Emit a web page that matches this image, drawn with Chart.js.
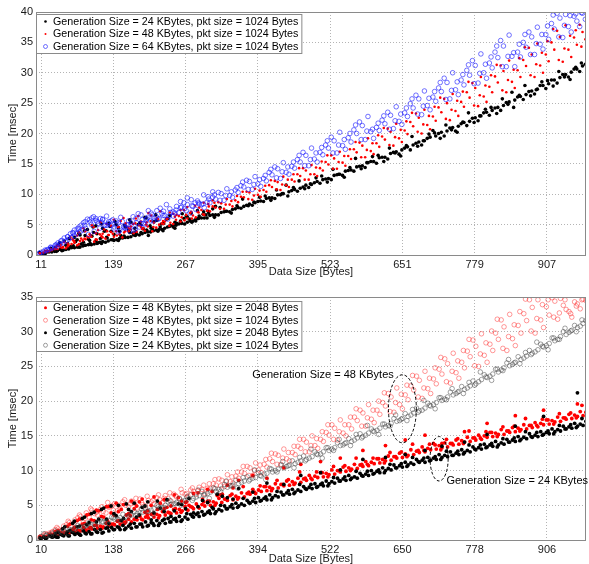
<!DOCTYPE html>
<html>
<head>
<meta charset="utf-8">
<script src="https://cdn.jsdelivr.net/npm/chart.js@4.4.1/dist/chart.umd.min.js"></script>
<style>
    html, body { margin: 0; padding: 0; background: #fff; overflow: hidden; }
    #topBox { position: absolute; left: 0; top: 0; }
    #bottomBox { position: absolute; left: 0; top: 285px; }
</style>
</head>
<body>
<div id="topBox"><canvas id="topChart" width="589" height="282"></canvas></div>
<div id="bottomBox"><canvas id="bottomChart" width="589" height="282"></canvas></div>
<script>
const FONT = '"Liberation Sans", Arial, Helvetica, sans-serif';

// shared data sizes (three interleaved sample grids)
const xs = [10,20,30,40,50,60,70,80,90,100,110,120,130,140,150,160,170,180,190,200,
    210,220,230,240,250,260,270,280,290,300,310,320,330,340,350,360,370,380,390,400,
    410,420,430,440,450,460,470,480,490,500,510,520,530,540,550,560,570,580,590,600,
    610,620,630,640,650,660,670,680,690,700,710,720,730,740,750,760,770,780,790,800,
    810,820,830,840,850,860,870,880,890,900,910,920,930,940,950,960,970];
const xs2 = [15,25,35,45,55,65,75,85,95,105,115,125,135,145,155,165,175,185,195,205,
    215,225,235,245,255,265,275,285,295,305,315,325,335,345,355,365,375,385,395,405,
    415,425,435,445,455,465,475,485,495,505,515,525,535,545,555,565,575,585,595,605,
    615,625,635,645,655,665,675,685,695,705,715,725,735,745,755,765,775,785,795,805,
    815,825,835,845,855,865,875,885,895,905,915,925,935,945,955,965,975];
const xs3 = [8,18,28,38,48,58,68,78,88,98,108,118,128,138,148,158,168,178,188,198,
    208,218,228,238,248,258,268,278,288,298,308,318,328,338,348,358,368,378,388,398,
    408,418,428,438,448,458,468,478,488,498,508,518,528,538,548,558,568,578,588,598,
    608,618,628,638,648,658,668,678,688,698,708,718,728,738,748,758,768,778,788,798,
    808,818,828,838,848,858,868,878,888,898,908,918,928,938,948,958,968];

// ---- top plot: pkt size 1024 Bytes ----
const topLabels = [
    'Generation Size = 24 KBytes, pkt size = 1024 Bytes',
    'Generation Size = 48 KBytes, pkt size = 1024 Bytes',
    'Generation Size = 64 KBytes, pkt size = 1024 Bytes'
];
const topXTicks = [11, 139, 267, 395, 523, 651, 779, 907];

const top24A = [0.3,0.4,0.5,0.7,0.8,1.0,1.2,1.3,1.6,1.7,
    1.9,2.2,2.3,2.4,2.7,2.9,3.0,3.4,3.5,3.8,
    4.0,4.2,4.4,4.8,4.9,5.2,5.4,5.6,6.0,6.1,
    6.5,6.6,7.0,7.2,7.5,7.8,8.0,8.4,8.6,8.9,
    9.3,9.4,9.9,10.1,10.4,10.8,11.0,11.5,11.6,12.1,
    12.4,12.6,13.1,13.3,13.8,14.0,14.5,14.7,15.2,15.4,
    16.0,16.1,16.7,17.0,17.3,17.8,18.1,18.6,18.8,19.4,
    19.6,20.2,20.4,21.0,21.2,21.8,22.0,22.6,22.9,23.5,
    23.8,24.3,24.6,25.2,25.5,26.1,26.4,27.0,27.3,27.9,
    28.2,28.8,29.2,29.7,30.1,30.6,31.1];
const top24B = [0.2,0.5,0.6,0.9,0.9,1.2,1.3,1.5,1.7,1.8,
    2.1,2.1,2.5,2.5,2.8,2.9,3.3,3.3,3.7,3.8,
    4.1,4.2,4.6,4.6,5.1,5.1,5.6,5.6,6.1,6.1,
    6.6,6.6,7.1,7.1,7.6,7.7,8.2,8.2,8.8,8.8,
    9.4,9.3,9.9,11.5,10.6,10.5,11.2,11.1,11.9,11.8,
    12.5,12.4,13.2,13.1,13.9,13.8,14.6,14.4,15.4,15.1,
    16.1,15.8,16.9,16.6,17.6,17.3,18.4,18.1,19.2,20.5,
    20.0,19.6,20.9,20.4,21.6,21.3,22.5,22.1,23.4,23.0,
    24.2,23.8,25.1,26.8,26.0,25.6,26.9,26.5,27.9,27.4,
    28.8,28.3,29.7,29.3,30.6,30.2,31.4];
const top24C = [0.4,0.2,0.8,0.6,0.7,1.1,1.5,1.3,1.6,1.9,
    2.3,1.9,2.8,2.5,2.4,3.1,3.7,3.2,3.7,4.1,
    4.4,3.9,5.2,4.7,4.4,5.5,6.4,5.4,6.0,6.7,
    6.9,6.2,7.8,7.2,6.9,8.1,9.2,8.1,8.7,9.5,
    9.7,9.0,10.7,10.1,9.7,11.1,12.2,10.9,11.7,12.7,
    13.0,12.0,14.1,13.3,12.8,14.4,15.9,14.2,15.2,16.2,
    16.4,15.4,17.6,16.8,16.3,18.0,19.5,17.9,18.8,19.9,
    20.1,19.2,21.4,20.6,20.2,21.9,23.4,21.8,22.9,24.0,
    24.3,23.3,25.7,24.8,24.3,26.3,27.9,26.2,27.2,28.5,
    28.7,27.8,30.2,29.3,28.9,30.9,31.6];
const top48A = [0.3,0.5,0.8,1.0,1.3,1.6,2.0,2.3,2.6,3.0,2.5,2.9,3.3,3.0,3.4,3.9,4.2,3.8,4.3,4.7,
    4.6,5.0,5.5,5.3,5.8,6.2,6.0,6.5,7.0,
    6.6,7.2,7.8,8.5,9.2, 8.0,8.7,9.5,10.3,10.9, 9.6,10.4,11.2,12.0,12.9,
    11.2,12.1,13.0,13.9,14.8, 13.0,13.9,14.9,15.9,17.0, 14.7,15.8,16.9,18.0,19.2,
    16.6,17.8,19.0,20.3,21.6, 18.6,19.9,21.2,22.6,23.9, 20.7,22.1,23.5,25.0,26.5,
    22.9,24.4,25.9,27.5,29.3, 25.2,26.8,28.4,30.3,32.0, 27.5,29.3,31.1,33.0,34.8,
    30.0,31.9,33.8,35.9,37.8, 32.6,34.6,36.7];
const top48B = [0.4,0.6,1.0,1.3,1.1,1.8,1.6,2.4,2.9,2.2,3.4,2.7,3.8,3.2,2.9,4.5,3.6,4.9,4.0,5.6,
    4.5,5.2,6.0,5.1,6.4,5.7,6.9,6.2,7.4,
    7.3,8.0,8.7,7.6,8.3, 9.0,9.6,10.4,9.1,9.9, 10.7,11.5,12.2,10.7,11.5,
    12.4,13.3,14.3,12.4,13.3, 14.3,15.3,16.4,14.2,15.2, 16.3,17.4,18.5,16.1,17.1,
    18.4,19.5,20.8,18.0,19.2, 20.5,21.9,23.3,20.0,21.4, 22.8,24.3,25.7,22.2,23.7,
    25.2,26.8,28.3,24.5,26.1, 27.7,29.4,31.2,26.8,28.5, 30.4,32.1,34.1,29.3,31.2,
    33.0,35.0,36.9,31.8,33.8, 35.8,37.9,35.5];
const top48C = [0.3,0.7,0.9,1.4,1.2,1.9,2.4,1.8,2.7,3.3,2.6,3.1,3.9,3.5,4.6,3.7,4.3,5.2,4.6,5.4,
    3.9,5.9,5.1,4.8,6.3,5.5,6.6,6.0,7.1,6.7,
    8.0,8.6,7.6,8.3,8.9, 9.7,10.4,9.2,9.8,10.6, 11.4,12.3,10.8,11.6,12.4,
    13.3,14.3,12.4,13.3,14.4, 15.4,16.4,14.2,15.3,16.3, 17.4,18.6,16.1,17.3,18.4,
    19.7,20.9,18.1,19.4,20.6, 22.0,23.4,20.3,21.5,22.9, 24.4,25.9,22.4,23.9,25.4,
    26.9,28.5,24.6,26.3,27.9, 29.6,31.3,27.1,28.8,30.5, 32.4,34.2,29.6,31.4,33.3,
    35.2,37.2,32.1,34.0,36.1, 37.0,34.3];
const top64A = [0.4,0.7,1.1,1.5,2.0,2.6,3.2,3.8,4.4,5.0,5.5,5.8,5.2,4.6,4.0,4.4,4.9,5.3,5.8,6.2,
    5.6,6.0,6.5,7.0,7.4,7.9,8.3,8.0,8.6,
    7.8,8.6,9.2,10.1,10.9, 9.5,10.3,11.2,12.1,12.9, 11.3,12.2,13.2,14.2,15.2,
    13.3,14.3,15.3,16.4,17.6, 15.3,16.5,17.6,18.8,20.2, 17.4,18.6,20.0,21.3,22.8,
    19.2,20.5,21.6,23.0,24.4, 21.5,22.8,24.2,25.7,27.0, 23.9,25.3,26.9,28.4,30.0,
    26.4,28.0,29.6,31.2,33.1, 29.1,30.8,32.5,34.4,36.2, 31.0,32.6,34.2,35.9,37.5,
    33.9,35.5,37.2,39.0,39.6, 36.7,38.5,39.8];
const top64B = [0.5,0.9,1.3,1.8,2.3,2.9,3.5,4.1,3.4,3.9,4.4,4.9,5.6,5.1,5.5,5.0,4.1,4.6,5.0,5.6,
    6.3,6.8,5.9,6.4,7.0,7.6,6.9,7.5,8.3,
    8.7,9.5,10.3,9.0,9.8, 10.7,11.4,12.3,10.8,11.7, 12.6,13.6,14.5,12.6,13.6,
    14.6,15.7,16.9,14.7,15.8, 16.9,18.1,19.4,16.8,18.0, 19.3,20.6,21.9,19.0,20.3,
    21.0,22.2,23.5,20.8,22.0, 23.4,24.9,26.3,23.1,24.6, 26.0,27.5,29.1,25.7,27.2,
    28.8,30.4,32.0,28.3,30.0, 31.6,33.4,35.3,31.0,32.7, 33.4,35.0,36.7,33.0,34.7,
    36.3,38.1,39.8,35.8,37.6, 39.3,37.6,38.8];
const top64C = [0.3,0.8,1.2,1.7,2.4,3.0,3.6,4.3,4.9,5.4,6.0,5.4,4.9,5.8,5.3,4.5,3.9,4.3,5.2,6.0,
    6.6,5.9,7.2,6.4,6.9,7.8,7.3,8.1,8.9,8.4,
    9.2,9.9,9.0,9.8,10.4, 11.1,12.0,10.8,11.6,12.4, 13.1,14.1,12.7,13.7,14.5,
    15.3,16.4,14.7,15.7,16.8, 17.7,18.8,16.8,18.1,19.0, 20.0,21.4,19.0,20.4,20.7,
    21.7,22.9,20.7,22.1,23.2, 24.2,25.7,23.2,24.5,25.8, 26.9,28.4,25.6,27.1,28.5,
    29.7,31.3,28.2,29.9,31.4, 32.6,34.4,31.0,32.7,33.3, 34.7,36.3,33.0,34.8,36.3,
    37.7,39.5,35.9,37.8,39.4, 39.7,39.9];

// scattered points at small data sizes (top plot)
const topCloudX = [28,41,52,63,70,78,86,93,101,108,116,123,131,140,148,157,166,174,183,192,
    201,211,222,233,245,258,270,284,299,315];
const top24Cloud = [1.1,1.6,2.3,1.4,2.9,3.6,2.1,4.2,3.1,4.8,2.7,3.9,5.2,3.4,4.5,2.9,4.1,3.6,5.0,4.3,
    3.2,5.5,4.6,5.9,4.9,5.6,6.3,5.8,7.1,7.6];
const top48Cloud = [0.9,1.5,2.1,2.9,2.2,3.7,4.4,3.0,4.9,3.6,5.4,4.2,3.3,5.8,4.6,6.1,3.9,5.1,6.4,4.4,
    6.9,5.3,7.2,5.9,6.8,7.4,7.9,8.1,8.6,9.0];
const top64Cloud = [1.3,2.0,2.8,3.5,4.1,4.6,5.3,5.9,6.1,5.7,6.0,4.9,5.5,4.3,3.8,4.7,5.6,6.3,6.8,5.2,
    7.3,6.1,7.7,8.3,7.1,8.8,9.4,8.6,9.9,10.4];
const topCloudX2 = [22,36,46,58,67,75,82,89,97,104,112,120,127,135,144,152,161,170,179,188,
    197,206,216,227,239,251,264,277,291,307];
const top24Cloud2 = [0.6,1.2,0.9,1.9,1.3,2.5,1.8,3.2,2.4,3.7,2.0,4.4,2.9,3.9,5.0,3.2,4.6,5.4,3.8,4.9,
    6.1,4.4,5.7,4.0,6.5,5.2,6.0,6.9,6.4,7.2];
const top48Cloud2 = [0.7,1.0,1.7,1.4,2.6,3.2,2.7,3.9,3.4,4.6,4.1,3.5,5.1,4.8,3.9,5.6,5.2,4.7,6.0,5.5,
    5.0,6.5,6.1,5.6,7.0,6.6,7.4,7.1,7.8,8.4];
const top64Cloud2 = [0.9,1.6,2.3,3.0,3.7,4.3,4.9,5.5,5.8,6.3,5.2,5.9,6.4,4.9,5.6,6.2,4.6,5.3,6.0,6.6,
    5.8,6.9,7.3,6.5,7.6,8.0,8.6,9.1,8.4,9.6];
const topCloudX3 = [33,44,55,61,72,80,88,95,103,110,118,126,133,142,150,159,168,177,186,195,
    204,214,224,236,248,261,274,288,303,320];
const top24Cloud3 = [0.8,2.0,1.6,2.7,2.2,3.3,4.0,2.6,4.6,3.5,5.1,4.0,4.7,5.5,3.9,4.9,5.8,4.4,5.3,6.2,
    4.8,6.6,5.1,6.0,5.4,6.8,5.9,7.3,6.6,8.0];

// ---- bottom plot: pkt size 2048 vs 1024 Bytes ----
const bottomLabels = [
    'Generation Size = 48 KBytes, pkt size = 2048 Bytes',
    'Generation Size = 48 KBytes, pkt size = 1024 Bytes',
    'Generation Size = 24 KBytes, pkt size = 2048 Bytes',
    'Generation Size = 24 KBytes, pkt size = 1024 Bytes'
];
const bottomXTicks = [10, 138, 266, 394, 522, 650, 778, 906];

const bot48k2A = [0.3,0.5,0.5,0.8,0.8,1.0,1.1,1.3,1.4,1.6,
    1.7,1.9,2.0,2.2,2.3,2.6,2.6,2.9,2.9,3.2,
    3.3,3.5,3.6,3.8,3.9,4.2,4.3,4.5,4.6,4.9,
    5.0,5.3,5.4,5.7,5.8,6.1,6.2,6.6,6.7,7.0,
    7.1,7.4,7.5,7.8,7.9,8.2,8.3,8.6,8.7,9.0,
    9.1,9.4,9.5,9.8,9.9,10.2,10.3,10.6,10.7,11.0,
    11.1,11.4,11.5,11.8,11.9,12.2,12.3,12.6,12.7,13.0,
    13.1,13.3,13.4,13.7,13.8,14.1,14.2,14.4,14.5,14.8,
    14.9,15.2,15.2,15.5,15.6,15.9,16.0,16.2,16.3,16.6,
    16.7,17.0,17.1,17.4,17.5,17.8,17.9];
const bot48k2B = [0.5,0.8,0.7,1.1,1.1,1.4,1.4,1.8,1.7,2.1,
    2.0,2.4,2.3,2.7,2.6,3.0,3.0,3.4,3.3,3.7,
    3.7,4.1,4.0,4.4,4.4,4.8,4.8,5.2,5.1,5.6,
    5.5,6.0,5.9,6.4,6.3,6.8,6.7,7.3,7.2,7.7,
    7.6,8.1,8.0,8.5,8.4,8.9,8.8,9.3,9.2,9.7,
    9.6,10.1,10.0,10.5,10.4,10.9,10.8,11.3,11.2,11.7,
    11.6,12.1,12.0,12.5,12.4,13.0,12.8,13.4,13.2,13.9,
    13.6,14.0,13.9,14.4,14.3,14.8,14.7,15.1,15.0,15.5,
    15.4,15.9,15.7,16.2,16.1,16.6,16.5,16.9,16.8,17.3,
    17.2,17.7,17.6,18.1,18.0,18.5,18.4];
const bot48k2C = [0.5,0.3,0.8,0.8,1.0,0.9,1.6,1.3,1.5,1.8,
    2.1,1.7,2.7,2.3,2.8,2.4,3.5,3.0,3.0,3.6,
    3.8,3.2,4.5,3.9,4.5,4.0,5.5,4.7,4.8,5.5,
    5.6,5.0,6.5,5.9,6.6,5.9,7.7,6.9,6.9,7.8,
    7.7,7.1,8.6,8.0,8.7,8.0,9.8,8.9,8.9,9.8,
    9.7,9.1,10.6,10.0,10.7,10.0,11.8,10.9,10.9,11.8,
    11.7,11.1,12.6,12.0,12.7,12.0,13.8,12.9,12.9,13.8,
    13.7,13.0,14.5,13.9,14.6,13.9,15.7,14.7,14.7,15.6,
    15.5,14.9,16.3,15.7,16.4,15.7,17.5,16.5,16.5,17.4,
    17.3,16.7,18.2,17.6,18.3,17.6,19.4];
const bot48k1A = [0.5,0.8,1.2,1.6,2.0,2.5,2.9,3.4,3.9,4.3,3.6,4.1,4.7,5.2,4.5,5.0,5.6,4.6,5.1,5.7,
    5.2,5.8,6.4,5.6,6.2,6.8,6.3,7.0,7.6,
    6.7,7.4,7.9,8.6,9.4, 8.2,8.9,9.6,10.4,11.1, 9.7,10.5,11.3,12.2,13.1,
    11.4,12.3,13.2,14.1,15.0, 13.2,14.2,15.1,16.1,17.3, 15.0,16.0,17.2,18.3,19.5,
    16.9,18.1,19.3,20.6,21.9, 18.9,20.2,21.6,23.0,24.3, 21.1,22.5,23.9,25.4,26.9,
    23.3,24.8,26.4,27.9,29.7, 25.6,27.3,28.9,30.7,32.5, 28.0,29.8,31.6,33.5,34.6,
    30.6,32.4,34.4,34.8,33.2, 32.1,34.0,34.7];
const bot48k1B = [0.7,1.0,1.5,1.3,2.2,1.9,3.2,2.6,3.3,3.8,4.4,3.9,4.9,4.2,5.5,4.8,5.3,5.9,4.9,5.5,
    6.1,5.4,6.0,6.6,5.9,6.6,7.2,6.6,7.3,
    7.4,8.1,8.8,7.7,8.4, 9.2,9.8,10.6,9.3,10.1, 10.9,11.7,12.4,10.9,11.7,
    12.6,13.5,14.5,12.7,13.6, 14.5,15.5,16.6,14.4,15.4, 16.6,17.7,18.7,16.4,17.4,
    18.7,19.8,21.1,18.4,19.5, 20.9,22.2,23.6,20.4,21.8, 23.2,24.6,26.1,22.6,24.1,
    25.6,27.2,28.8,25.0,26.6, 28.2,29.8,31.7,27.3,29.0, 30.9,32.6,34.6,29.8,31.7,
    33.6,34.9,31.8,33.8,32.9, 34.3,33.3,34.5];
const bot48k1C = [0.4,0.9,1.0,1.8,1.5,2.7,2.3,3.6,3.1,4.5,4.0,4.8,5.4,4.3,5.0,5.8,5.2,6.0,5.4,6.3,
    5.7,6.5,6.0,6.8,6.4,7.3,6.7,7.5,7.1,7.9,
    8.1,8.7,7.8,8.4,9.1, 9.8,10.6,9.3,10.0,10.8, 11.6,12.5,10.9,11.8,12.6,
    13.5,14.5,12.7,13.6,14.6, 15.6,16.6,14.5,15.6,16.6, 17.7,18.9,16.4,17.6,18.7,
    20.0,21.2,18.5,19.8,21.0, 22.3,23.7,20.6,21.9,23.3, 24.8,26.3,22.8,24.3,25.8,
    27.3,28.9,25.1,26.8,28.4, 30.1,31.8,27.6,29.3,31.0, 32.9,34.7,30.1,31.9,33.9,
    34.6,32.1,32.7,34.6,32.6, 33.7,34.6];
const bot24k2A = [0.2,0.3,0.4,0.4,0.6,0.6,0.8,0.7,0.9,0.9,
    1.1,1.1,1.3,1.5,1.5,1.7,1.7,1.9,1.9,2.1,
    2.1,2.4,2.4,2.6,2.7,2.9,3.0,3.3,3.4,3.7,
    3.8,4.1,4.2,4.5,4.6,4.9,5.0,5.3,5.4,5.7,
    5.8,6.1,6.2,6.5,6.6,6.9,7.0,7.3,7.4,7.7,
    7.8,8.1,8.2,8.5,8.6,8.9,8.9,9.2,9.3,9.6,
    9.7,10.0,10.1,10.4,10.5,10.8,10.9,11.2,11.2,11.5,
    11.6,11.9,12.0,12.2,12.3,12.6,12.7,13.0,13.1,13.4,
    13.5,13.7,13.8,14.1,14.2,14.5,14.6,14.8,14.9,15.2,
    15.3,15.6,15.7,16.0,16.1,16.4,16.5];
const bot24k2B = [0.4,0.6,0.5,0.8,0.9,1.1,1.0,1.3,1.2,1.5,
    1.5,1.7,1.8,1.9,2.1,2.0,2.4,2.3,2.6,2.5,
    2.8,2.8,3.1,3.0,3.4,3.3,3.7,3.7,4.1,4.0,
    4.5,4.4,4.9,4.8,5.3,5.2,5.7,5.6,6.1,6.0,
    6.5,6.4,6.9,6.8,7.3,7.2,7.7,7.6,8.1,8.0,
    8.5,8.4,8.9,8.8,9.3,9.1,9.6,9.5,10.0,9.9,
    10.4,10.3,10.8,10.7,11.2,11.1,11.6,11.5,11.9,11.8,
    12.3,12.2,12.7,12.5,13.0,12.9,13.4,13.3,13.8,13.7,
    14.2,14.0,14.5,14.4,14.9,14.8,15.3,15.1,15.6,15.5,
    16.0,15.9,16.4,16.3,16.8,16.7,17.1];
const bot24k2C = [0.3,0.2,0.5,0.4,0.7,0.6,1.0,0.8,1.0,0.9,
    1.2,1.0,1.8,1.5,1.8,1.5,2.3,1.9,2.3,2.0,
    2.4,2.1,3.0,2.6,3.1,2.7,3.8,3.4,3.9,3.6,
    4.2,3.8,5.0,4.5,5.1,4.7,6.0,5.4,6.0,5.6,
    6.2,5.8,7.0,6.5,7.1,6.7,8.0,7.4,8.0,7.6,
    8.2,7.8,9.0,8.5,9.1,8.7,9.9,9.3,9.9,9.5,
    10.1,9.7,10.9,10.4,11.0,10.6,11.9,11.3,11.8,11.4,
    12.0,11.6,12.8,12.2,12.8,12.4,13.7,13.1,13.7,13.3,
    13.9,13.4,14.6,14.1,14.7,14.3,15.6,14.9,15.5,15.1,
    15.7,15.3,16.5,16.0,16.6,16.2,17.5];
const bot24k1A = [0.5,0.7,1.0,1.1,1.4,1.5,1.7,1.9,2.1,2.2,
    2.5,2.6,2.8,3.0,3.2,3.3,3.6,3.8,4.0,4.2,
    4.5,4.6,5.0,5.1,5.4,5.6,5.9,6.0,6.4,6.5,
    6.9,7.0,7.4,7.6,7.9,8.1,8.5,8.7,9.0,9.2,
    9.6,9.8,10.2,10.4,10.8,11.0,11.4,11.6,12.0,12.3,
    12.7,12.9,13.3,13.6,14.0,14.2,14.7,14.9,15.4,15.6,
    16.1,16.3,16.8,17.1,17.5,17.8,18.3,18.6,19.0,19.3,
    19.8,20.1,20.6,20.9,21.4,21.7,22.2,22.5,23.1,23.4,
    23.9,24.2,24.8,25.1,25.6,26.0,26.5,26.9,27.4,27.8,
    28.3,28.7,29.3,29.6,30.2,30.6,31.2];
const bot24k1B = [0.9,0.8,1.3,1.2,1.7,1.5,2.1,1.9,2.5,2.3,
    2.9,2.6,3.3,3.0,3.7,3.4,4.1,3.9,4.6,4.3,
    5.0,4.7,5.5,5.2,6.0,5.7,6.5,6.2,7.0,6.7,
    7.5,7.3,8.0,7.8,8.6,8.3,9.1,8.9,9.7,9.5,
    10.3,10.0,10.8,10.6,11.4,11.2,12.1,11.8,12.7,12.4,
    13.3,13.1,14.0,13.7,14.6,14.4,15.3,15.1,16.0,15.8,
    16.7,16.5,17.5,17.2,18.2,18.0,19.0,18.7,19.7,19.5,
    20.5,20.3,21.3,21.1,22.1,21.9,22.9,22.8,23.8,23.6,
    24.6,24.5,25.5,25.3,26.4,26.2,27.3,27.1,28.2,28.0,
    29.1,28.9,30.0,29.9,30.9,30.8,31.6];
const bot24k1C = [0.1,0.6,0.6,1.0,1.0,1.0,1.4,1.4,2.0,1.9,
    1.7,2.6,2.3,3.2,2.9,2.7,3.7,3.5,4.5,4.1,
    3.7,4.8,4.6,5.7,5.2,5.0,6.2,5.7,7.2,6.5,
    6.0,7.4,7.0,8.5,7.8,7.5,9.0,8.5,10.1,9.3,
    8.7,10.2,9.8,11.3,10.7,10.4,11.9,11.4,13.1,12.4,
    11.8,13.3,12.9,14.5,13.9,13.6,15.2,14.7,16.5,15.7,
    15.2,16.7,16.4,18.0,17.4,17.2,18.8,18.4,20.1,19.4,
    18.9,20.5,20.2,21.8,21.3,21.1,22.7,22.3,24.2,23.5,
    23.0,24.6,24.4,26.0,25.5,25.4,27.0,26.7,28.5,27.9,
    27.4,29.1,28.9,30.5,30.1,30.0,31.7];

// scattered filled points (bottom plot)
const botCloudX = [35,48,57,66,74,83,91,99,108,117,126,134,143,152,161,170,179,189,199,210,
    221,233,246,259,272,288,305,322,340,360,385,410,440,470,505,540,580,620,655,690,
    720,760,800,850,900,960];
const bot24k2Cloud = [0.9,1.6,1.2,2.4,1.9,3.1,2.2,3.8,2.6,4.4,3.0,4.9,3.5,2.8,5.2,4.1,3.3,4.7,5.5,3.9,
    4.6,5.8,4.2,5.1,6.0,4.8,5.4,6.6,6.1,7.4,6.9,8.2,8.0,9.3,9.7,10.1,11.6,11.9,12.3,12.9,
    13.5,14.1,15.2,16.4,17.8,21.2];
const bot48k2Cloud = [1.2,0.8,2.0,1.5,2.8,2.3,3.6,2.9,4.3,3.4,4.8,3.9,5.3,4.4,3.6,5.6,4.9,5.9,4.2,6.2,
    5.3,4.7,6.5,5.6,5.0,6.8,7.3,6.4,7.9,8.6,9.3,8.9,10.4,10.9,11.3,11.8,12.9,13.6,14.4,15.1,
    13.9,15.6,16.8,17.9,18.7,19.6];
const botCloudX2 = [30,40,52,61,69,78,87,95,104,112,121,130,139,147,156,165,175,184,194,205,
    216,228,240,253,266,280,296,313,331,350];
const bot24k2Cloud2 = [0.6,1.1,1.9,1.4,2.7,2.0,3.3,2.5,4.0,3.0,4.6,2.4,3.8,5.0,3.1,4.4,5.3,3.6,4.9,2.9,
    5.6,4.1,3.4,5.2,4.5,3.9,5.7,4.7,6.3,5.9];
const bot48k2Cloud2 = [0.8,1.4,1.1,2.3,1.8,3.0,2.4,3.7,2.8,4.2,3.3,4.8,3.6,4.1,5.1,3.8,4.5,5.5,4.0,5.0,
    4.4,5.8,4.9,6.1,5.4,6.7,5.9,7.0,6.6,7.5];

// annotations of the bottom plot
const bottomNotes = [
    {text: 'Generation Size = 48 KBytes', x: 384, y: 23.8},
    {text: 'Generation Size = 24 KBytes', x: 728, y: 8.5}
];
const bottomRings = [
    {x: 650, y: 18.9, rx: 24.7, ry: 4.9},
    {x: 715, y: 11.7, rx: 16, ry: 3.2}
];

function pts(xv, yv) {
    return xv.map((x, i) => ({x: x, y: yv[i]}));
}

function series(label, points, mark, order) {
    return {
        label: label,
        data: points,
        order: order,
        mark: mark,
        showLine: false,
        pointRadius: mark.r,
        pointHoverRadius: mark.r,
        pointBackgroundColor: mark.fill || 'rgba(0,0,0,0)',
        pointBorderColor: mark.stroke || mark.fill,
        pointBorderWidth: mark.fill ? 0 : mark.lw
    };
}

function drawMark(ctx, mark, x, y) {
    ctx.beginPath();
    ctx.arc(x, y, mark.lr, 0, Math.PI * 2);
    if (mark.fill) {
        ctx.fillStyle = mark.fill;
        ctx.fill();
    } else {
        ctx.strokeStyle = mark.stroke;
        ctx.lineWidth = mark.lw;
        ctx.stroke();
    }
}

const decor = {
    id: 'decor',
    afterDraw(chart, args, o) {
        const ctx = chart.ctx;
        const a = chart.chartArea;
        ctx.save();
        ctx.strokeStyle = '#8a8a8a';
        ctx.lineWidth = 1;
        ctx.strokeRect(Math.round(a.left) + 0.5, Math.round(a.top) + 0.5,
            Math.round(a.right - a.left) - 1, Math.round(a.bottom - a.top));

        // annotations
        const sx = chart.scales.x, sy = chart.scales.y;
        (o.rings || []).forEach(r => {
            const cx = sx.getPixelForValue(r.x), cy = sy.getPixelForValue(r.y);
            const rx = sx.getPixelForValue(r.x + r.rx) - cx;
            const ry = cy - sy.getPixelForValue(r.y + r.ry);
            ctx.beginPath();
            ctx.setLineDash([3, 2]);
            ctx.strokeStyle = '#000';
            ctx.lineWidth = 1;
            ctx.ellipse(cx, cy, rx, ry, 0, 0, Math.PI * 2);
            ctx.stroke();
            ctx.setLineDash([]);
        });
        ctx.font = '11px ' + FONT;
        ctx.fillStyle = '#000';
        ctx.textBaseline = 'middle';
        ctx.textAlign = 'left';
        (o.notes || []).forEach(n => {
            ctx.fillText(n.text, sx.getPixelForValue(n.x), sy.getPixelForValue(n.y));
        });

        // legend box
        const sets = chart.data.datasets;
        ctx.font = '10.7px ' + FONT;
        let w = 0;
        sets.forEach(d => { w = Math.max(w, ctx.measureText(d.label).width); });
        const bx = Math.round(a.left) + 0.5;
        const by = Math.round(a.top + o.legendTop) + 0.5;
        const bw = 17 + w + 3;
        const bh = o.legendPad * 2 + sets.length * 12.5;
        ctx.fillStyle = '#fff';
        ctx.fillRect(bx, by, bw, bh);
        ctx.strokeStyle = '#8a8a8a';
        ctx.lineWidth = 1;
        ctx.strokeRect(bx, by, bw, bh);
        sets.forEach((d, i) => {
            const cy = by + o.legendPad + 6.25 + i * 12.5;
            drawMark(ctx, d.mark, a.left + 9.5, cy);
            ctx.fillStyle = '#000';
            ctx.fillText(d.label, a.left + 17, cy + 0.5);
        });
        ctx.restore();
    }
};

function makeOptions(xMin, xMax, xTicks, yMax, titlePad, decorOpts) {
    const tickFont = {family: FONT, size: 11};
    return {
        responsive: false,
        animation: false,
        events: [],
        layout: {padding: {top: 12, right: 1, left: 0, bottom: 0}},
        plugins: {
            legend: {display: false},
            tooltip: {enabled: false},
            decor: decorOpts
        },
        scales: {
            x: {
                type: 'linear',
                min: xMin,
                max: xMax,
                afterBuildTicks: s => { s.ticks = xTicks.map(v => ({value: v})); },
                afterFit: s => { s.height = 27; },
                grid: {color: '#b4b4b4', lineWidth: 1, drawTicks: false},
                border: {display: false, dash: [1, 2]},
                ticks: {padding: 3, color: '#1a1a1a', font: tickFont, maxRotation: 0, autoSkip: false},
                title: {display: true, text: 'Data Size [Bytes]', color: '#1a1a1a', font: tickFont,
                    padding: {top: 0, bottom: titlePad}}
            },
            y: {
                type: 'linear',
                min: 0,
                max: yMax,
                afterFit: s => { s.width = 36; },
                grid: {color: '#b4b4b4', lineWidth: 1, drawTicks: false},
                border: {display: false, dash: [1, 2]},
                ticks: {stepSize: 5, padding: 3, color: '#1a1a1a', font: tickFont},
                title: {display: true, text: 'Time [msec]', color: '#1a1a1a', font: tickFont,
                    padding: {top: 6, bottom: 0}}
            }
        }
    };
}

new Chart(document.getElementById('topChart'), {
    type: 'scatter',
    data: {
        datasets: [
            series(topLabels[0], [...pts(xs, top24A), ...pts(xs2, top24B), ...pts(xs3, top24C),
                ...pts(topCloudX, top24Cloud), ...pts(topCloudX2, top24Cloud2), ...pts(topCloudX3, top24Cloud3)],
                {fill: '#000000', r: 1.8, lr: 1.3}, 2),
            series(topLabels[1], [...pts(xs, top48A), ...pts(xs2, top48B), ...pts(xs3, top48C),
                ...pts(topCloudX, top48Cloud), ...pts(topCloudX2, top48Cloud2)],
                {fill: '#ff0000', r: 1.3, lr: 1.0}, 1),
            series(topLabels[2], [...pts(xs, top64A), ...pts(xs2, top64B), ...pts(xs3, top64C),
                ...pts(topCloudX, top64Cloud), ...pts(topCloudX2, top64Cloud2)],
                {stroke: 'rgba(20,20,255,0.75)', r: 2.3, lr: 2.0, lw: 0.8}, 0)
        ]
    },
    options: makeOptions(2, 976, topXTicks, 40, 3.4, {legendTop: 2, legendPad: 0.75}),
    plugins: [decor]
});

new Chart(document.getElementById('bottomChart'), {
    type: 'scatter',
    data: {
        datasets: [
            series(bottomLabels[0], [...pts(xs, bot48k2A), ...pts(xs2, bot48k2B), ...pts(xs3, bot48k2C),
                ...pts(botCloudX, bot48k2Cloud), ...pts(botCloudX2, bot48k2Cloud2)],
                {fill: '#ff0000', r: 1.9, lr: 1.5}, 3),
            series(bottomLabels[1], [...pts(xs, bot48k1A), ...pts(xs2, bot48k1B), ...pts(xs3, bot48k1C)],
                {stroke: 'rgba(255,40,40,0.6)', r: 2.3, lr: 2.0, lw: 0.8}, 2),
            series(bottomLabels[2], [...pts(xs, bot24k2A), ...pts(xs2, bot24k2B), ...pts(xs3, bot24k2C),
                ...pts(botCloudX, bot24k2Cloud), ...pts(botCloudX2, bot24k2Cloud2)],
                {fill: '#000000', r: 1.9, lr: 1.5}, 1),
            series(bottomLabels[3], [...pts(xs, bot24k1A), ...pts(xs2, bot24k1B), ...pts(xs3, bot24k1C)],
                {stroke: 'rgba(60,60,60,0.6)', r: 2.3, lr: 2.0, lw: 0.8}, 0)
        ]
    },
    options: makeOptions(1, 975, bottomXTicks, 35, 1.4,
        {legendTop: 3.5, legendPad: 0, notes: bottomNotes, rings: bottomRings}),
    plugins: [decor]
});
</script>
</body>
</html>
